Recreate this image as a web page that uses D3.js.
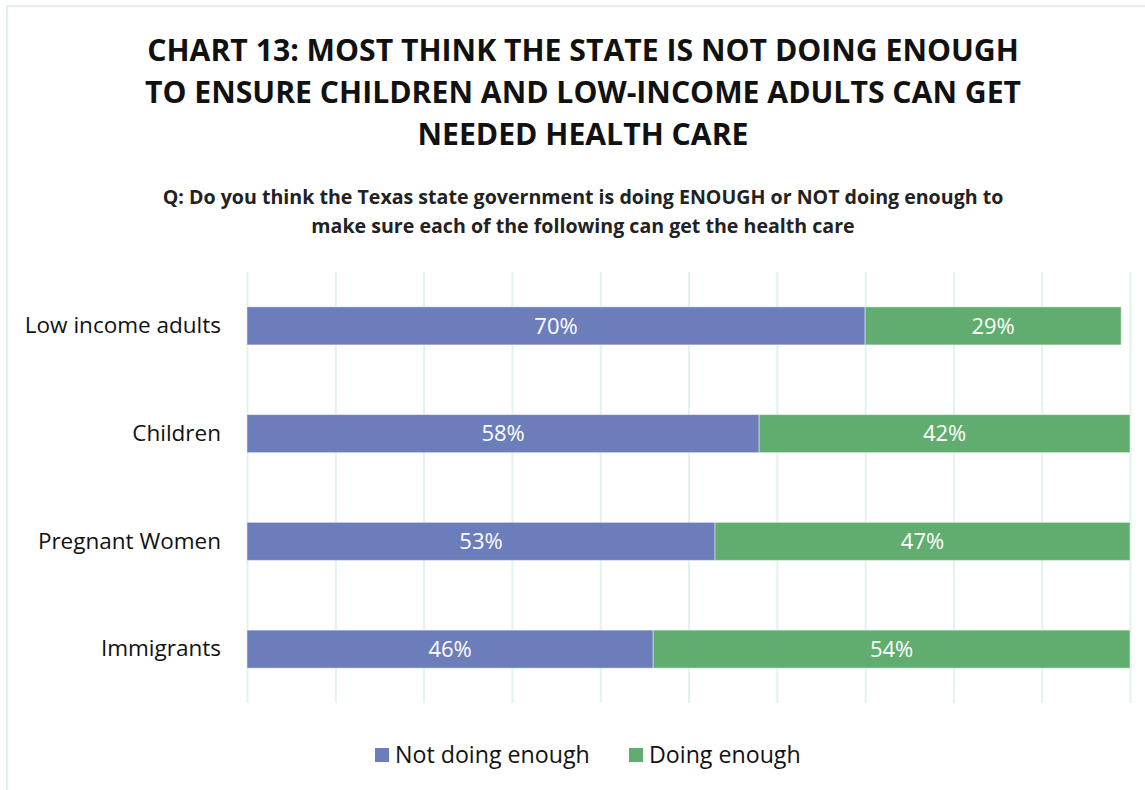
<!DOCTYPE html>
<html>
<head>
<meta charset="utf-8">
<script src="https://cdn.jsdelivr.net/npm/d3@7"></script>
<style>
  html, body { margin: 0; padding: 0; background: #fff; }
  svg { display: block; font-family: "Open Sans", "Noto Sans", sans-serif; }
</style>
</head>
<body>
<svg id="chart" width="1145" height="790"></svg>
<script>
const titleLines = [
  "CHART 13: MOST THINK THE STATE IS NOT DOING ENOUGH",
  "TO ENSURE CHILDREN AND LOW-INCOME ADULTS CAN GET",
  "NEEDED HEALTH CARE"
];
const subtitleLines = [
  "Q: Do you think the Texas state government is doing ENOUGH or NOT doing enough to",
  "make sure each of the following can get the health care"
];
const categories = ["Low income adults", "Children", "Pregnant Women", "Immigrants"];
const seriesNames = ["Not doing enough", "Doing enough"];
const notDoingEnough = [70, 58, 53, 46];
const doingEnough = [29, 42, 47, 54];
const gridTicks = [0, 10, 20, 30, 40, 50, 60, 70, 80, 90, 100];
const colors = ["#6b7dbb", "#61ad70"];

const svg = d3.select("#chart");

// outer border
svg.append("rect")
  .attr("x", 7).attr("y", 6).attr("width", 1160).attr("height", 800)
  .attr("fill", "none").attr("stroke", "#e3f1e7").attr("stroke-width", 2);

// title
svg.append("g").selectAll("text").data(titleLines).join("text")
  .attr("x", 583).attr("y", (d, i) => 61 + i * 42)
  .attr("text-anchor", "middle")
  .attr("font-size", 30.2).attr("font-weight", 700).attr("fill", "#111")
  .text(d => d);

// subtitle
svg.append("g").selectAll("text").data(subtitleLines).join("text")
  .attr("x", 583).attr("y", (d, i) => 204 + i * 29)
  .attr("text-anchor", "middle")
  .attr("font-size", 19.6).attr("font-weight", 700).attr("fill", "#222")
  .text(d => d);

const x = d3.scaleLinear().domain([0, 100]).range([247, 1130]);
const y = d3.scaleBand().domain(categories).range([272, 703])
  .paddingInner(0.647).paddingOuter(0.3235);

// gridlines
const grid = svg.append("g")
  .attr("transform", "translate(0,703)")
  .call(d3.axisBottom(x).tickValues(gridTicks).tickSize(-(703 - 272)).tickFormat(""));
grid.select(".domain").remove();
grid.selectAll(".tick line").attr("stroke", "#e4f2ea").attr("stroke-width", 2);

// category axis
const yAxis = svg.append("g")
  .attr("transform", "translate(247,0)")
  .call(d3.axisLeft(y).tickSize(0).tickPadding(26));
yAxis.select(".domain").remove();
yAxis.selectAll("text")
  .attr("font-family", "'Open Sans', 'Noto Sans', sans-serif")
  .attr("font-size", 22.5).attr("fill", "#111");

const rows = categories.map((c, i) => ({
  cat: c,
  segs: [
    { s: 0, start: 0, v: notDoingEnough[i] },
    { s: 1, start: notDoingEnough[i], v: doingEnough[i] }
  ]
}));

const rowG = svg.append("g").selectAll("g").data(rows).join("g");

rowG.selectAll("rect").data(d => d.segs.map(s => ({ ...s, cat: d.cat }))).join("rect")
  .attr("x", d => x(d.start))
  .attr("y", d => y(d.cat))
  .attr("width", d => x(d.start + d.v) - x(d.start))
  .attr("height", y.bandwidth())
  .attr("fill", d => colors[d.s])
  .attr("stroke", "rgba(255,255,255,0.45)")
  .attr("stroke-width", 1);

rowG.selectAll("text").data(d => d.segs.map(s => ({ ...s, cat: d.cat }))).join("text")
  .attr("x", d => x(d.start + d.v / 2))
  .attr("y", d => y(d.cat) + y.bandwidth() / 2)
  .attr("dy", "0.35em")
  .attr("text-anchor", "middle")
  .attr("font-size", 22).attr("fill", "#fff")
  .text(d => d.v + "%");

// legend
const legendItems = [
  { name: seriesNames[0], color: colors[0], x: 375 },
  { name: seriesNames[1], color: colors[1], x: 629 }
];
const lg = svg.append("g").selectAll("g").data(legendItems).join("g")
  .attr("transform", d => `translate(${d.x},748)`);
lg.append("rect").attr("width", 14).attr("height", 14).attr("fill", d => d.color);
lg.append("text").attr("x", 20).attr("y", 7).attr("dy", "0.35em")
  .attr("font-size", 23.2).attr("fill", "#111").text(d => d.name);
</script>
</body>
</html>
